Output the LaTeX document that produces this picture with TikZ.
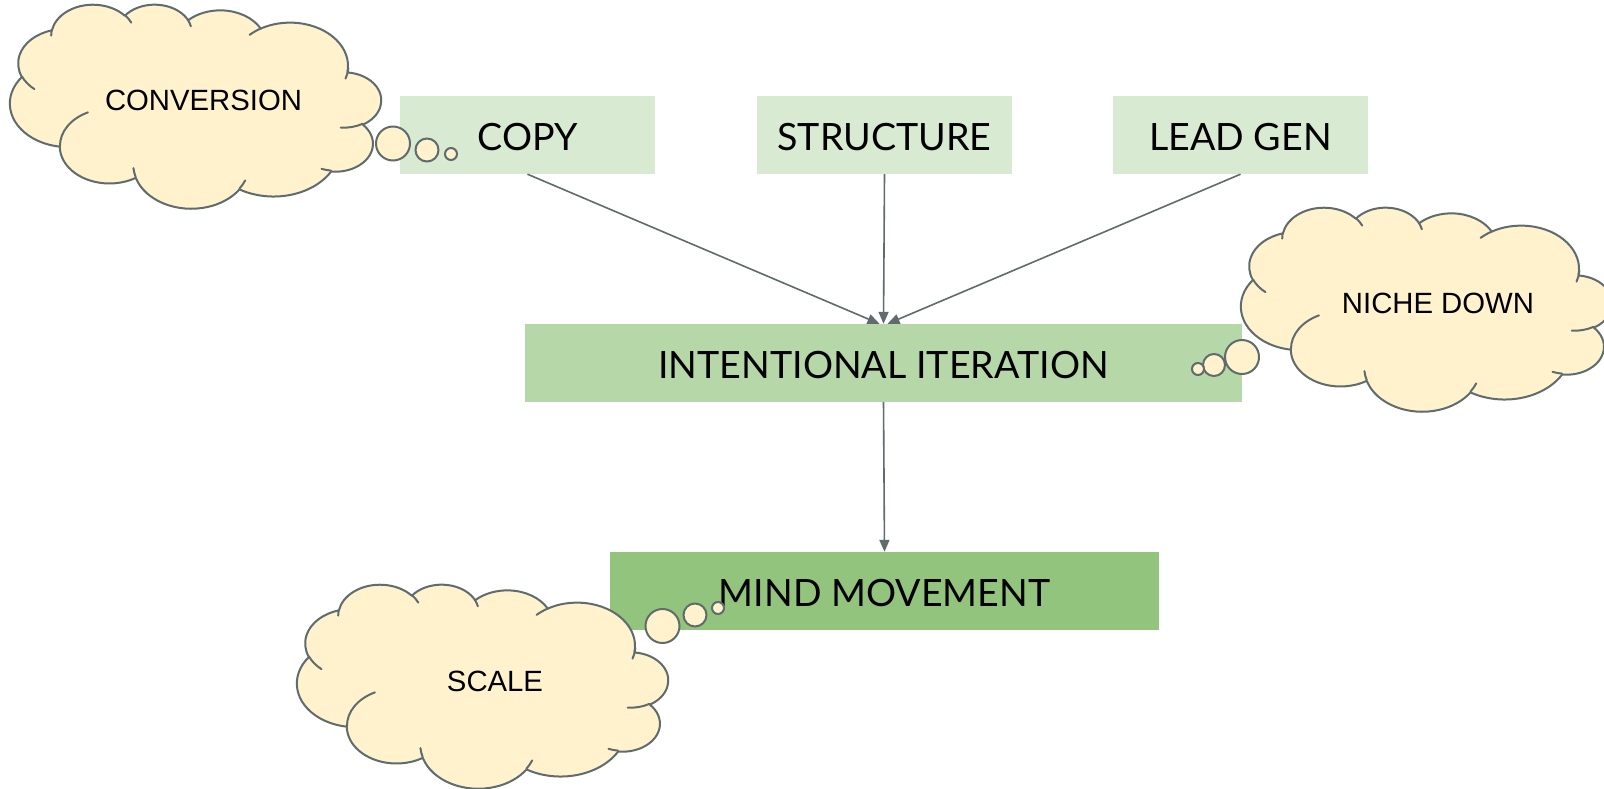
\documentclass[tikz,border=0pt]{standalone}
\usepackage{fontspec}
\setmainfont{Liberation Sans}
\newfontfamily\latofont{Lato}
\usetikzlibrary{arrows.meta}

\definecolor{boxlight}{HTML}{D9EAD3}
\definecolor{boxmid}{HTML}{B6D7A8}
\definecolor{boxdark}{HTML}{93C47D}
\definecolor{cloudfill}{HTML}{FFF2CC}
\definecolor{inkgrey}{HTML}{5F6B6D}

% visual (polar) angle on an ellipse -> parametric angle
\pgfmathdeclarefunction{vang}{3}{%
  \begingroup
    \pgfmathsetmacro\vangd{atan2((#1)*sin(#3),(#2)*cos(#3))-(#3)}%
    \pgfmathparse{(#3)+(\vangd)-360*round((\vangd)/360)}%
    \pgfmathsmuggle\pgfmathresult
  \endgroup}

\tikzset{
  % elliptic arc given by radii, visual start angle and sweep
  ca/.code n args={4}{%
    \pgfmathsetmacro\cloudst{vang(#1,#2,#3)}%
    \pgfmathsetmacro\clouden{vang(#1,#2,(#3)+(#4))}%
    \edef\cloudargs{x radius=#1, y radius=#2, start angle=\cloudst, end angle=\clouden}%
    \expandafter\pgfkeysalso\expandafter{\cloudargs}},
  cloudbody/.style={fill=cloudfill, draw=inkgrey, line width=2pt, line join=round},
  cloudcrease/.style={draw=inkgrey, line width=2pt, line cap=round},
  bubble/.style={circle, fill=cloudfill, draw=inkgrey, line width=2pt, inner sep=0pt},
  cloudtext/.style={font=\fontsize{29.3}{32}\selectfont, inner sep=0pt},
  stagebox/.style={rectangle, inner sep=0pt, minimum height=78pt,
    text height=30pt, text depth=0pt,
    font=\latofont\fontsize{37.6}{40}\selectfont},
  flow/.style={draw=inkgrey, line width=1.6pt, -{Triangle[length=12pt,width=10pt]}},
  % cloud of 371 x 204, origin at its top-left corner
  thought cloud/.pic={
    \begin{scope}[shift={(371,0)}, xscale=-8.588, yscale=4.7222]
      \path[cloudbody] (3.900,14.370)
        arc[ca={6.753}{9.190}{-190.48748}{123.78053}]
        arc[ca={5.333}{7.267}{-144.10238}{89.94523}]
        arc[ca={4.365}{5.945}{-145.80792}{99.72302}]
        arc[ca={4.857}{6.595}{-130.98607}{117.24173}]
        arc[ca={5.333}{7.273}{-78.70888}{109.02692}]
        arc[ca={6.775}{9.220}{-46.26725}{130.269}]
        arc[ca={5.785}{7.867}{0.62502}{114.03333}]
        arc[ca={6.752}{9.215}{22.4516}{115.17255}]
        arc[ca={7.720}{10.543}{66.24263}{75.71102}]
        arc[ca={4.360}{5.918}{-274.94208}{146.73557}]
        arc[ca={4.345}{5.945}{-246.8285}{152.51885}]
        -- cycle;
      \path[cloudcrease]
        (4.693,26.177) arc[ca={4.345}{5.945}{86.742}{26.4295}]
        (6.928,34.899) arc[ca={4.360}{5.918}{73.61047}{11.44747}]
        (16.478,39.090) arc[ca={6.752}{9.215}{137.62415}{14.0811}]
        (28.827,34.751) arc[ca={6.752}{9.215}{6.45327}{15.99835}]
        (34.129,22.954) arc[ca={5.785}{7.867}{-70.29235}{70.91737}]
        (41.798,15.354) arc[ca={5.333}{7.273}{30.31803}{27.7515}]
        (38.324,5.426) arc[ca={4.857}{6.595}{-13.74433}{14.8589}]
        (29.078,3.952) arc[ca={4.857}{6.595}{-149.18145}{18.19537}]
        (22.141,4.720) arc[ca={4.365}{5.945}{-163.49427}{17.68635}]
        (14.000,5.192) arc[ca={6.753}{9.190}{-66.70695}{12.31935}]
        (4.127,15.789) arc[ca={6.753}{9.190}{155.6491}{18.17038}];
    \end{scope}
  }
}

\begin{document}
\begin{tikzpicture}[x=1pt, y=-1pt]
  \fill[white] (0,0) rectangle (1604,788);
  \useasboundingbox (0,0) rectangle (1604,788);

  % stage boxes
  \node[stagebox, fill=boxlight, minimum width=255pt] (copy) at (527.5,135) {COPY};
  \node[stagebox, fill=boxlight, minimum width=255pt] (structure) at (884.5,135) {STRUCTURE};
  \node[stagebox, fill=boxlight, minimum width=255pt] (leadgen) at (1240.5,135) {LEAD GEN};
  \node[stagebox, fill=boxmid, minimum width=717pt] (iter) at (883.5,363) {INTENTIONAL ITERATION};
  \node[stagebox, fill=boxdark, minimum width=549pt] (mind) at (884.5,591) {MIND MOVEMENT};

  % connectors
  \draw[flow] (copy.south) -- ([xshift=-4pt]iter.north);
  \draw[flow] (structure.south) -- (iter.north);
  \draw[flow] (leadgen.south) -- ([xshift=4pt]iter.north);
  \draw[flow] (iter.south) -- (mind.north);

  % thought clouds
  \pic at (10,4) {thought cloud};
  \node[cloudtext] (conversion) at (203.5,100.5) {CONVERSION};
  \node[bubble, minimum size=34pt] (cb1) at (393,143.5) {};
  \node[bubble, minimum size=23pt] (cb2) at (427,150) {};
  \node[bubble, minimum size=12pt] (cb3) at (451,154) {};

  \pic at (1241,207) {thought cloud};
  \node[cloudtext] (niche) at (1438,303.5) {NICHE DOWN};
  \node[bubble, minimum size=34pt] (nb1) at (1242,357) {};
  \node[bubble, minimum size=22pt] (nb2) at (1214,365) {};
  \node[bubble, minimum size=12pt] (nb3) at (1198,369) {};

  \pic at (297,584) {thought cloud};
  \node[cloudtext] (scale) at (495,681.5) {SCALE};
  \node[bubble, minimum size=34pt] (sb1) at (662.5,626) {};
  \node[bubble, minimum size=23pt] (sb2) at (695,615) {};
  \node[bubble, minimum size=12pt] (sb3) at (718,608) {};
\end{tikzpicture}
\end{document}
